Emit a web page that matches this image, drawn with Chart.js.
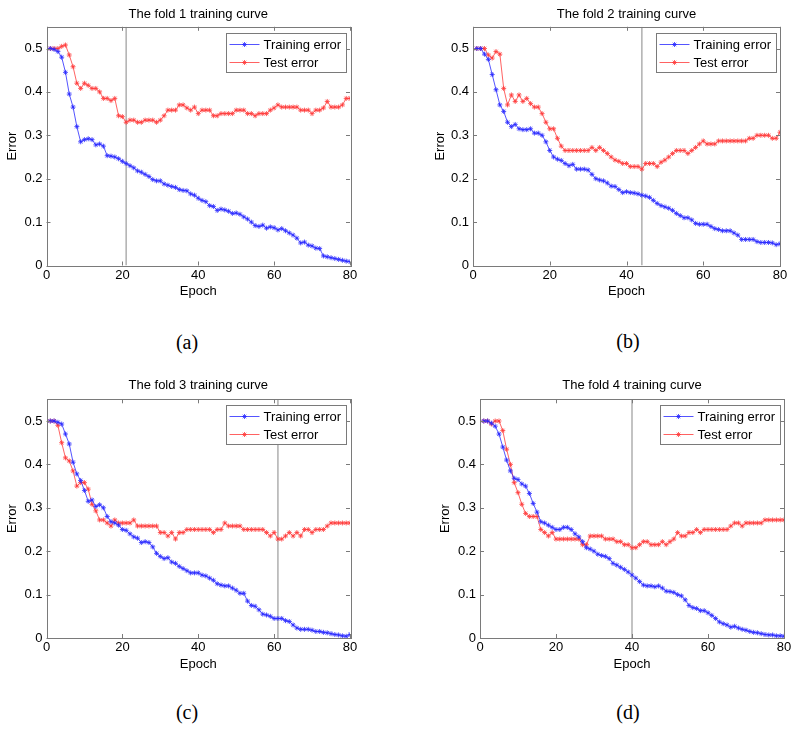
<!DOCTYPE html>
<html>
<head>
<meta charset="utf-8">
<script src="https://cdn.jsdelivr.net/npm/chart.js@4/dist/chart.umd.min.js"></script>
<style>
  body { margin: 0; background: #fff; }
  #page { position: relative; width: 800px; height: 733px; overflow: hidden; }
  canvas { position: absolute; }
  .sub { position: absolute; font: 20px "Liberation Serif", "Times New Roman", serif; color: #000; transform: translate(-50%, -50%); }
</style>
</head>
<body>
<div id="page"></div>
<script>
// epochs (x values)
const epochs = [1,2,3,4,5,6,7,8,9,10,11,12,13,14,15,16,17,18,19,20,21,22,23,24,25,26,27,28,29,30,31,32,33,34,35,36,37,38,39,40,
  41,42,43,44,45,46,47,48,49,50,51,52,53,54,55,56,57,58,59,60,61,62,63,64,65,66,67,68,69,70,71,72,73,74,75,76,77,78,79,80];

// fold 1
const train1 = [0.5,0.498,0.493,0.48,0.445,0.395,0.365,0.32,0.285,0.29,0.292,0.29,0.278,0.28,0.275,0.253,0.252,0.25,0.246,0.24,
  0.235,0.23,0.225,0.218,0.215,0.21,0.205,0.198,0.195,0.195,0.188,0.185,0.182,0.18,0.175,0.173,0.172,0.165,0.162,0.155,
  0.15,0.147,0.138,0.136,0.127,0.13,0.128,0.125,0.12,0.121,0.118,0.112,0.107,0.1,0.092,0.09,0.093,0.086,0.089,0.087,
  0.082,0.085,0.08,0.075,0.07,0.063,0.052,0.054,0.047,0.045,0.04,0.039,0.022,0.02,0.018,0.016,0.014,0.012,0.01,0.009];
const test1 = [0.5,0.5,0.5,0.505,0.508,0.485,0.458,0.42,0.408,0.42,0.415,0.408,0.408,0.4,0.385,0.385,0.38,0.385,0.345,0.343,
  0.33,0.335,0.335,0.33,0.33,0.335,0.335,0.335,0.33,0.335,0.345,0.358,0.358,0.358,0.37,0.37,0.363,0.358,0.365,0.35,
  0.358,0.358,0.358,0.345,0.345,0.35,0.35,0.35,0.35,0.358,0.358,0.358,0.35,0.35,0.345,0.35,0.35,0.35,0.358,0.363,
  0.37,0.365,0.365,0.365,0.365,0.365,0.358,0.358,0.358,0.35,0.358,0.358,0.363,0.378,0.365,0.365,0.365,0.37,0.385,0.385];

// fold 2
const train2 = [0.5,0.5,0.487,0.475,0.44,0.405,0.37,0.355,0.33,0.32,0.325,0.315,0.313,0.313,0.315,0.305,0.305,0.3,0.285,0.265,
  0.25,0.245,0.242,0.235,0.23,0.233,0.222,0.222,0.222,0.22,0.21,0.2,0.197,0.195,0.19,0.183,0.182,0.175,0.168,0.17,
  0.168,0.167,0.165,0.162,0.16,0.157,0.15,0.143,0.138,0.135,0.132,0.127,0.12,0.115,0.11,0.11,0.105,0.097,0.095,0.095,
  0.095,0.09,0.085,0.083,0.08,0.08,0.08,0.075,0.07,0.06,0.06,0.06,0.06,0.055,0.053,0.053,0.053,0.052,0.048,0.05];
const test2 = [0.5,0.5,0.5,0.485,0.478,0.493,0.487,0.408,0.37,0.393,0.378,0.393,0.378,0.385,0.373,0.365,0.365,0.35,0.33,0.315,
  0.315,0.293,0.275,0.265,0.265,0.265,0.265,0.265,0.265,0.265,0.272,0.265,0.272,0.265,0.258,0.25,0.243,0.24,0.235,0.235,
  0.228,0.228,0.228,0.222,0.235,0.235,0.235,0.228,0.238,0.243,0.25,0.258,0.265,0.265,0.265,0.258,0.265,0.272,0.28,0.287,
  0.28,0.28,0.28,0.287,0.287,0.287,0.287,0.287,0.287,0.287,0.287,0.293,0.293,0.3,0.3,0.3,0.3,0.293,0.293,0.307];

// fold 3
const train3 = [0.5,0.5,0.497,0.493,0.47,0.447,0.405,0.378,0.363,0.34,0.315,0.318,0.303,0.307,0.3,0.28,0.268,0.265,0.26,0.25,
  0.248,0.24,0.233,0.23,0.22,0.222,0.22,0.21,0.195,0.188,0.183,0.185,0.175,0.172,0.165,0.16,0.155,0.15,0.15,0.15,
  0.145,0.143,0.138,0.133,0.125,0.122,0.12,0.12,0.115,0.11,0.103,0.103,0.085,0.075,0.073,0.065,0.055,0.053,0.05,0.045,
  0.045,0.045,0.04,0.038,0.03,0.023,0.02,0.02,0.02,0.018,0.015,0.015,0.013,0.012,0.01,0.008,0.007,0.005,0.004,0.008];
const test3 = [0.5,0.5,0.49,0.45,0.415,0.408,0.385,0.35,0.358,0.358,0.343,0.308,0.293,0.272,0.272,0.265,0.258,0.272,0.265,0.265,
  0.265,0.265,0.272,0.258,0.258,0.258,0.258,0.258,0.258,0.243,0.243,0.235,0.243,0.228,0.243,0.243,0.25,0.25,0.25,0.25,
  0.25,0.25,0.25,0.243,0.25,0.25,0.265,0.258,0.258,0.258,0.258,0.25,0.25,0.25,0.25,0.25,0.25,0.243,0.235,0.243,
  0.228,0.228,0.235,0.243,0.235,0.243,0.235,0.25,0.25,0.243,0.25,0.25,0.25,0.258,0.265,0.265,0.265,0.265,0.265,0.265];

// fold 4
const train4 = [0.5,0.5,0.495,0.488,0.47,0.44,0.41,0.385,0.368,0.365,0.355,0.35,0.333,0.31,0.29,0.268,0.265,0.26,0.255,0.25,
  0.25,0.255,0.255,0.25,0.24,0.233,0.222,0.208,0.205,0.2,0.193,0.19,0.188,0.183,0.172,0.168,0.163,0.158,0.152,0.145,
  0.138,0.13,0.122,0.12,0.12,0.118,0.12,0.115,0.108,0.107,0.105,0.1,0.097,0.088,0.075,0.07,0.068,0.063,0.063,0.058,
  0.052,0.045,0.037,0.033,0.03,0.025,0.027,0.023,0.02,0.018,0.015,0.013,0.012,0.01,0.008,0.007,0.007,0.005,0.005,0.004];
const test4 = [0.5,0.5,0.493,0.5,0.5,0.478,0.435,0.4,0.358,0.335,0.308,0.287,0.28,0.28,0.28,0.25,0.243,0.235,0.243,0.228,
  0.228,0.228,0.228,0.228,0.228,0.228,0.215,0.215,0.235,0.235,0.235,0.235,0.228,0.228,0.228,0.222,0.222,0.215,0.215,0.208,
  0.208,0.215,0.222,0.222,0.215,0.215,0.215,0.222,0.215,0.222,0.228,0.243,0.235,0.235,0.243,0.243,0.25,0.243,0.25,0.25,
  0.25,0.25,0.25,0.25,0.25,0.258,0.265,0.265,0.258,0.265,0.265,0.265,0.265,0.265,0.272,0.272,0.272,0.272,0.272,0.272];

// epoch marked by the grey vertical line in each fold
const bestEpoch = [21, 44, 61, 40];

const trainSets = [train1, train2, train3, train4];
const testSets = [test1, test2, test3, test4];
const titles = ['The fold 1 training curve', 'The fold 2 training curve', 'The fold 3 training curve', 'The fold 4 training curve'];
const subLabels = ['(a)', '(b)', '(c)', '(d)'];
const seriesNames = ['Training error', 'Test error'];
const xTicks = [0, 20, 40, 60, 80];
const yTicks = [0, 0.1, 0.2, 0.3, 0.4, 0.5];

// where each panel sits on the page (canvas pos + paddings so the plot box lands right)
const panels = [
  { left: 0,   top: 0,   padL: 4.2,  yW: 42.3, padR: 50, padB: 20.5, padT: 26.8, titleY: 14, lx: 187, ly: 342 },
  { left: 400, top: 0,   padL: 32.2, yW: 40.8, padR: 20, padB: 20.5, padT: 26.8, titleY: 14, lx: 628, ly: 341 },
  { left: 0,   top: 370, padL: 4.2,  yW: 42.3, padR: 50, padB: 18,   padT: 29.3, titleY: 15, lx: 187, ly: 712 },
  { left: 400, top: 370, padL: 37.9, yW: 42.1, padR: 16, padB: 18,   padT: 29.3, titleY: 15, lx: 628, ly: 712 }
];

const FONT = '"Liberation Sans", Arial, Helvetica, sans-serif';
Chart.defaults.font.family = FONT;
Chart.defaults.font.size = 13;
Chart.defaults.color = '#000';

function star(ctx, x, y, r) {
  const d = r * 0.7071;
  ctx.beginPath();
  ctx.moveTo(x - r, y); ctx.lineTo(x + r, y);
  ctx.moveTo(x, y - r); ctx.lineTo(x, y + r);
  ctx.moveTo(x - d, y - d); ctx.lineTo(x + d, y + d);
  ctx.moveTo(x - d, y + d); ctx.lineTo(x + d, y - d);
  ctx.stroke();
}

// title over the axes, box, inward ticks and the legend inside the axes
const framePlugin = {
  id: 'frame',
  afterDatasetsDraw(chart, args, opts) {
    const { ctx, chartArea: a, scales: { x, y } } = chart;
    ctx.save();

    ctx.fillStyle = '#000';
    ctx.font = '13px ' + FONT;
    ctx.textAlign = 'center';
    ctx.textBaseline = 'middle';
    ctx.fillText(opts.title, (a.left + a.right) / 2, opts.titleY);

    ctx.strokeStyle = '#7a7a7a';
    ctx.lineWidth = 1;
    ctx.strokeRect(Math.round(a.left) + 0.5, Math.round(a.top) + 0.5, Math.round(a.right - a.left), Math.round(a.bottom - a.top));
    ctx.beginPath();
    xTicks.forEach(v => {
      const px = Math.round(x.getPixelForValue(v)) + 0.5;
      ctx.moveTo(px, a.bottom); ctx.lineTo(px, a.bottom - 4);
      ctx.moveTo(px, a.top); ctx.lineTo(px, a.top + 4);
    });
    yTicks.forEach(v => {
      const py = Math.round(y.getPixelForValue(v)) + 0.5;
      ctx.moveTo(a.left, py); ctx.lineTo(a.left + 4, py);
      ctx.moveTo(a.right, py); ctx.lineTo(a.right - 4, py);
    });
    ctx.stroke();

    // legend
    const bw = 120, bh = 39;
    const bx = Math.round(a.right - 4 - bw) + 0.5, by = Math.round(a.top + 6) + 0.5;
    ctx.fillStyle = '#fff';
    ctx.fillRect(bx, by, bw, bh);
    ctx.strokeStyle = '#7a7a7a';
    ctx.strokeRect(bx, by, bw, bh);
    chart.data.datasets.slice(0, 2).forEach((ds, i) => {
      const ly = by + 11 + i * 18;
      ctx.strokeStyle = ds.borderColor;
      ctx.lineWidth = 0.8;
      ctx.beginPath();
      ctx.moveTo(bx + 3, ly); ctx.lineTo(bx + 33, ly);
      ctx.stroke();
      star(ctx, bx + 18, ly, 2.5);
      ctx.fillStyle = '#000';
      ctx.textBaseline = 'middle';
      ctx.textAlign = 'left';
      ctx.fillText(ds.label, bx + 37, ly + 0.5);
    });
    ctx.restore();
  }
};

const page = document.getElementById('page');

panels.forEach((p, k) => {
  const canvas = document.createElement('canvas');
  canvas.width = 400;
  canvas.height = 320;
  canvas.style.left = p.left + 'px';
  canvas.style.top = p.top + 'px';
  page.appendChild(canvas);

  const lab = document.createElement('div');
  lab.className = 'sub';
  lab.style.left = p.lx + 'px';
  lab.style.top = p.ly + 'px';
  lab.textContent = subLabels[k];
  page.appendChild(lab);

  new Chart(canvas, {
    type: 'line',
    data: {
      labels: epochs,
      datasets: [
        {
          label: seriesNames[0],
          data: trainSets[k].map((v, i) => ({ x: epochs[i], y: v })),
          borderColor: '#2828ff',
          borderWidth: 0.8,
          pointStyle: 'star',
          pointRadius: 2.5,
          pointBorderWidth: 0.8,
          pointBorderColor: '#2828ff',
          tension: 0
        },
        {
          label: seriesNames[1],
          data: testSets[k].map((v, i) => ({ x: epochs[i], y: v })),
          borderColor: '#ff3a3a',
          borderWidth: 0.8,
          pointStyle: 'star',
          pointRadius: 2.5,
          pointBorderWidth: 0.8,
          pointBorderColor: '#ff3a3a',
          tension: 0
        },
        {
          label: 'best',
          data: [{ x: bestEpoch[k], y: 0 }, { x: bestEpoch[k], y: 0.55 }],
          borderColor: '#b4b4b4',
          borderWidth: 1.6,
          pointRadius: 0
        }
      ]
    },
    options: {
      responsive: false,
      animation: false,
      layout: { padding: { left: p.padL, right: p.padR, top: p.padT, bottom: p.padB } },
      plugins: {
        legend: { display: false },
        tooltip: { enabled: false },
        title: { display: false },
        frame: { title: titles[k], titleY: p.titleY }
      },
      scales: {
        x: {
          type: 'linear',
          min: 0,
          max: 80,
          afterBuildTicks: s => { s.ticks = xTicks.map(v => ({ value: v })); },
          afterFit: s => { s.height = 34; },
          ticks: { autoSkip: false, maxRotation: 0, padding: 2, color: '#000' },
          grid: { display: false, drawTicks: false },
          border: { display: false },
          title: { display: true, text: 'Epoch', padding: 0, color: '#000' }
        },
        y: {
          min: 0,
          max: 0.55,
          afterBuildTicks: s => { s.ticks = yTicks.map(v => ({ value: v })); },
          afterFit: s => { s.width = p.yW; },
          ticks: {
            padding: 4,
            color: '#000',
            callback: v => (v === 0 ? '0' : v.toFixed(1))
          },
          grid: { display: false, drawTicks: false },
          border: { display: false },
          title: { display: true, text: 'Error', padding: 0, color: '#000' }
        }
      }
    },
    plugins: [framePlugin]
  });
});
</script>
</body>
</html>
